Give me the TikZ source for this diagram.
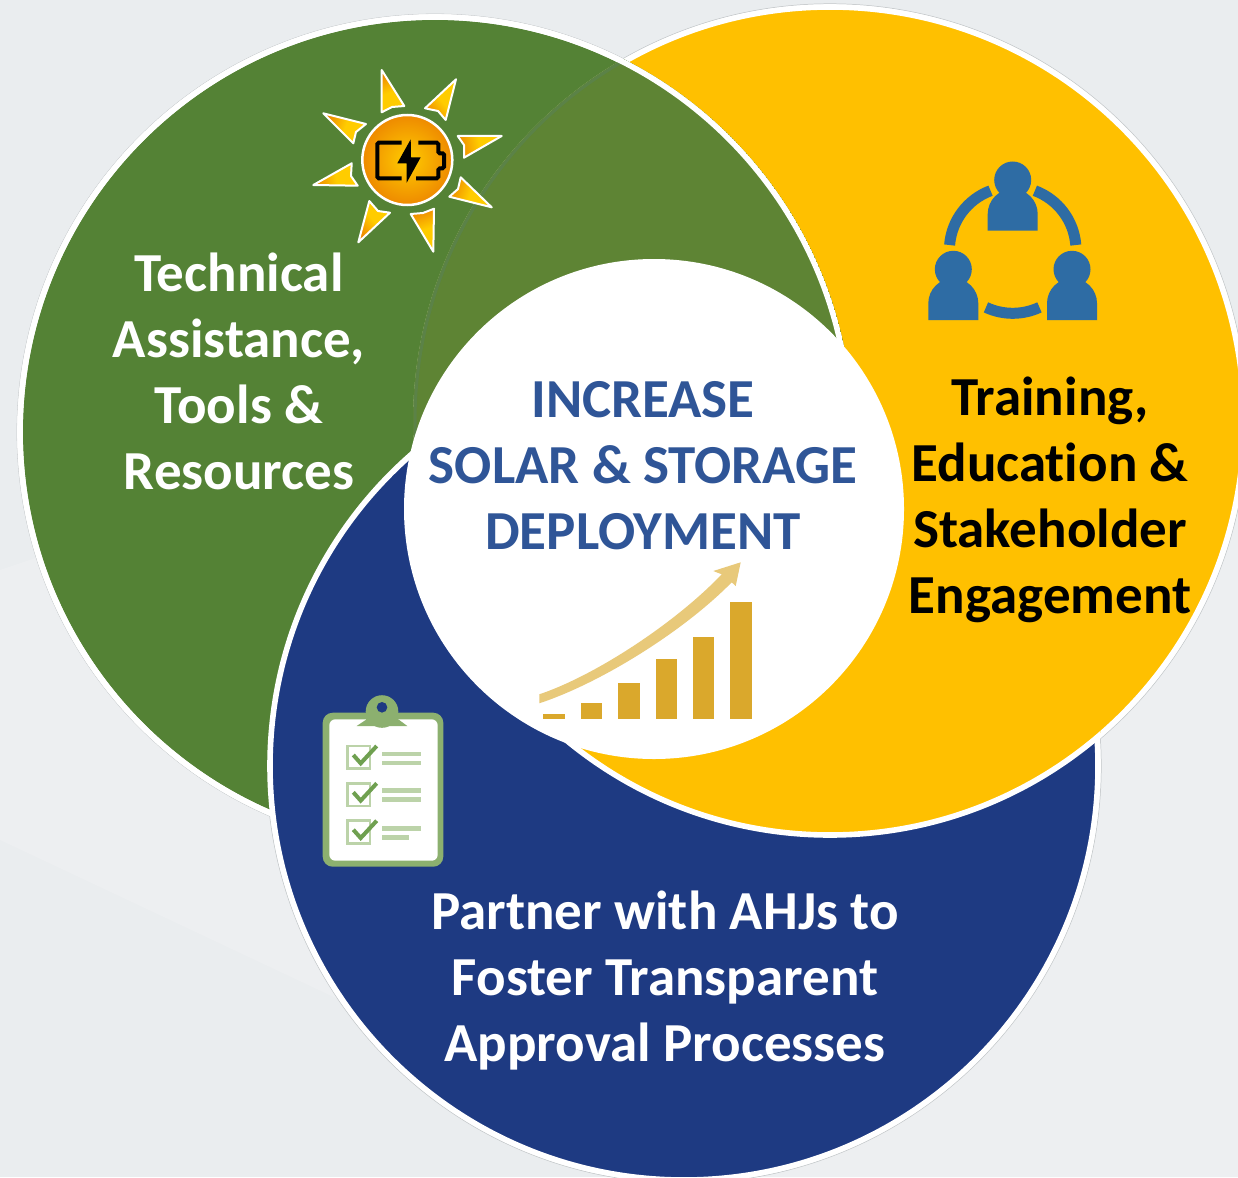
\documentclass[tikz,border=0pt]{standalone}
\usepackage{fontspec}
\setmainfont{Carlito}[Ligatures=NoCommon]
\definecolor{bgbase}{HTML}{EAEDEF}
\definecolor{bglight}{HTML}{EDEFF1}
\definecolor{leaf}{HTML}{548235}
\definecolor{leafmix}{HTML}{5E8434}
\definecolor{leafline}{HTML}{5B8247}
\definecolor{sunny}{HTML}{FFC000}
\definecolor{navy}{HTML}{1E3A82}
\definecolor{headblue}{HTML}{2F5597}
\definecolor{people}{HTML}{2E6CA4}
\definecolor{clipgreen}{HTML}{8CB06F}
\definecolor{cliplight}{HTML}{BCD3A9}
\definecolor{checkgreen}{HTML}{6FA050}
\definecolor{bargold}{HTML}{DAA82C}
\definecolor{arrowgold}{HTML}{E8C97A}
\definecolor{rayorange}{HTML}{EE8A00}
\definecolor{rayyellow}{HTML}{FFCC00}
\definecolor{edgegray}{HTML}{C4C8CA}
\tikzset{
  ringedge/.style={draw=edgegray,line width=0.7pt},
  disc/.style={draw=white,line width=5.6pt},
  sunray/.style={draw=white,line width=2pt,line join=round,left color=rayorange,right color=rayyellow,middle color=rayyellow},
  lbl/.style={font=\fontsize{55}{66}\selectfont\bfseries,align=center,inner sep=0pt},
  boxmark/.style={draw=cliplight,line width=2.7pt},
  tickmark/.style={draw=checkgreen,line width=4pt},
  rowline/.style={draw=cliplight,line width=4.5pt},
  batt/.style={draw=black,line width=4pt,rounded corners=1.5pt}
}
\begin{document}
\begin{tikzpicture}[x=1pt,y=1pt,yscale=-1]
\useasboundingbox (0,0) rectangle (1238,1177);
% background
\fill[bgbase] (0,0) rectangle (1238,1177);
\fill[bglight] (0,570) -- (500,400) -- (1238,400) -- (1238,1177) -- (716,1177) -- (0,840) -- cycle;
% outer hairlines
\draw[ringedge] (435,432) circle[radius=418];
\draw[ringedge] (830,421) circle[radius=417.2];
\draw[ringedge] (684,766) circle[radius=417.2];
% green, then yellow, then green again over yellow
\filldraw[disc,fill=leaf] (435,432) circle[radius=415];
\filldraw[disc,fill=sunny] (830,421) circle[radius=414];
\begin{scope}
  \clip (435,432) circle[radius=417.8];
  \fill[leafmix] (830,421) circle[radius=417];
  \draw[leafline,line width=3pt] (830,421) circle[radius=415];
  \draw[disc] (435,432) circle[radius=415];
\end{scope}
% blue over green, yellow over blue
\filldraw[disc,fill=navy] (684,766) circle[radius=414];
\begin{scope}
  \clip (684,766) circle[radius=418];
  \filldraw[disc,fill=sunny] (830,421) circle[radius=414];
\end{scope}
\fill[white] (654,509) circle[radius=250];
% sun
\shade[draw=white,line width=2.5pt,inner color=rayyellow,outer color=rayorange] (407.3,160) circle[radius=45];
\path[sunray,shading angle=20] (381.7,70) -- (404.3,106) -- (392,107) -- (381.7,112.3) -- cycle;
\path[sunray,shading angle=130] (456,79.3) -- (445.7,120) -- (438,111) -- (425,108.3) -- cycle;
\path[sunray,shading angle=100] (501.7,136) -- (464,157.7) -- (464,145) -- (457.7,136) -- cycle;
\path[sunray,shading angle=70] (491.7,207.3) -- (449.3,196.7) -- (458,189) -- (460.7,177.3) -- cycle;
\path[sunray,shading angle=20] (433.3,251.7) -- (410.7,214) -- (423,213) -- (434,208.7) -- cycle;
\path[sunray,shading angle=130] (358.3,242.3) -- (369.3,201) -- (378,211) -- (390,212.7) -- cycle;
\path[sunray,shading angle=100] (313.3,185) -- (351.7,163.3) -- (351,176) -- (357.7,185.7) -- cycle;
\path[sunray,shading angle=70] (323.3,113.3) -- (366,124) -- (356,132) -- (353.3,143.3) -- cycle;
\draw[batt] (401.7,142.7) -- (377.3,142.7) -- (377.3,178.3) -- (401.7,178.3);
\draw[batt] (418.3,142.7) -- (438.3,142.7) -- (438.3,153.3) -- (444,153.3) -- (444,168.3) -- (438.3,168.3) -- (438.3,178.3) -- (416,178.3);
\fill[black] (410.7,139.3) -- (397.3,163.3) -- (406.7,163.3) -- (406.7,182.7) -- (420.7,157.3) -- (411,157.3) -- cycle;
% people
\foreach \dx/\dy in {0/0,-59.4/89.3,59.3/89.3}{
  \fill[people] (1012.7+\dx,180+\dy) circle[radius=18.5];
  \fill[people] (987.7+\dx,230.7+\dy) -- (987.7+\dx,214+\dy) arc[start angle=180,end angle=360,radius=25] -- (1037.7+\dx,230.7+\dy) -- cycle;
}
\draw[people,line width=11pt] (1012.7,250) ++(184.5:63.3) arc[start angle=184.5,end angle=249.5,radius=63.3];
\draw[people,line width=11pt] (1012.7,250) ++(290.5:63.3) arc[start angle=290.5,end angle=355.5,radius=63.3];
\draw[people,line width=11pt] (1012.7,250) ++(65:63.3) arc[start angle=65,end angle=115,radius=63.3];
% clipboard
\fill[clipgreen,rounded corners=10pt] (322.7,712.7) rectangle (443.3,866.7);
\fill[white,rounded corners=6pt] (329.3,719.3) rectangle (437.7,860.7);
\fill[clipgreen] (382,711.5) circle[radius=16.3];
\fill[clipgreen] (365.7,711.5) rectangle (398.3,722);
\fill[clipgreen] (356.7,726) -- (407.3,726) -- (398.3,719.3) -- (366.7,719.3) -- cycle;
\fill[navy] (382,707.3) circle[radius=5.3];
\foreach \dy in {0,37.3,74.7}{
  \draw[boxmark] (347.3,746+\dy) rectangle (370,768.7+\dy);
  \draw[tickmark] (353.3,755+\dy) -- (360.7,763.3+\dy) -- (376.7,746+\dy);
}
\draw[rowline] (382.3,754) -- (421,754);
\draw[rowline] (382.3,763) -- (421,763);
\draw[rowline] (382.3,790.7) -- (421,790.7);
\draw[rowline] (382.3,799.3) -- (421,799.3);
\draw[rowline] (382.3,828.7) -- (421,828.7);
\draw[rowline] (382.3,837.7) -- (408.7,837.7);
% chart
\fill[bargold] (543.3,714) rectangle (564.7,719);
\fill[bargold] (580.7,703) rectangle (602.3,719);
\fill[bargold] (618.3,683.3) rectangle (639.7,719);
\fill[bargold] (655.7,659.3) rectangle (677,719);
\fill[bargold] (693,637.3) rectangle (714.3,719);
\fill[bargold] (730.3,601.7) rectangle (751.7,719);
\fill[arrowgold] (539.3,694.3) .. controls (596.7,675) and (676.7,621.7) .. (721.7,574.3)
  -- (713.3,571) -- (740.7,562.3) -- (735.7,586) -- (731.7,582.3)
  .. controls (683.3,631.7) and (600,683.3) .. (539.3,703.3) -- cycle;
% labels
\node[lbl,text=white] (tech) at (239,371) {Technical\\Assistance,\\Tools \&\\Resources};
\node[lbl,text=black] (train) at (1050,500) {Training,\\Education \&\\Stakeholder\\Engagement};
\node[lbl,text=headblue] (goal) at (643,466) {INCREASE\\SOLAR \& STORAGE\\DEPLOYMENT};
\node[lbl,text=white] (ahj) at (665,981) {Partner with AHJs to\\Foster Transparent\\Approval Processes};
\end{tikzpicture}
\end{document}
